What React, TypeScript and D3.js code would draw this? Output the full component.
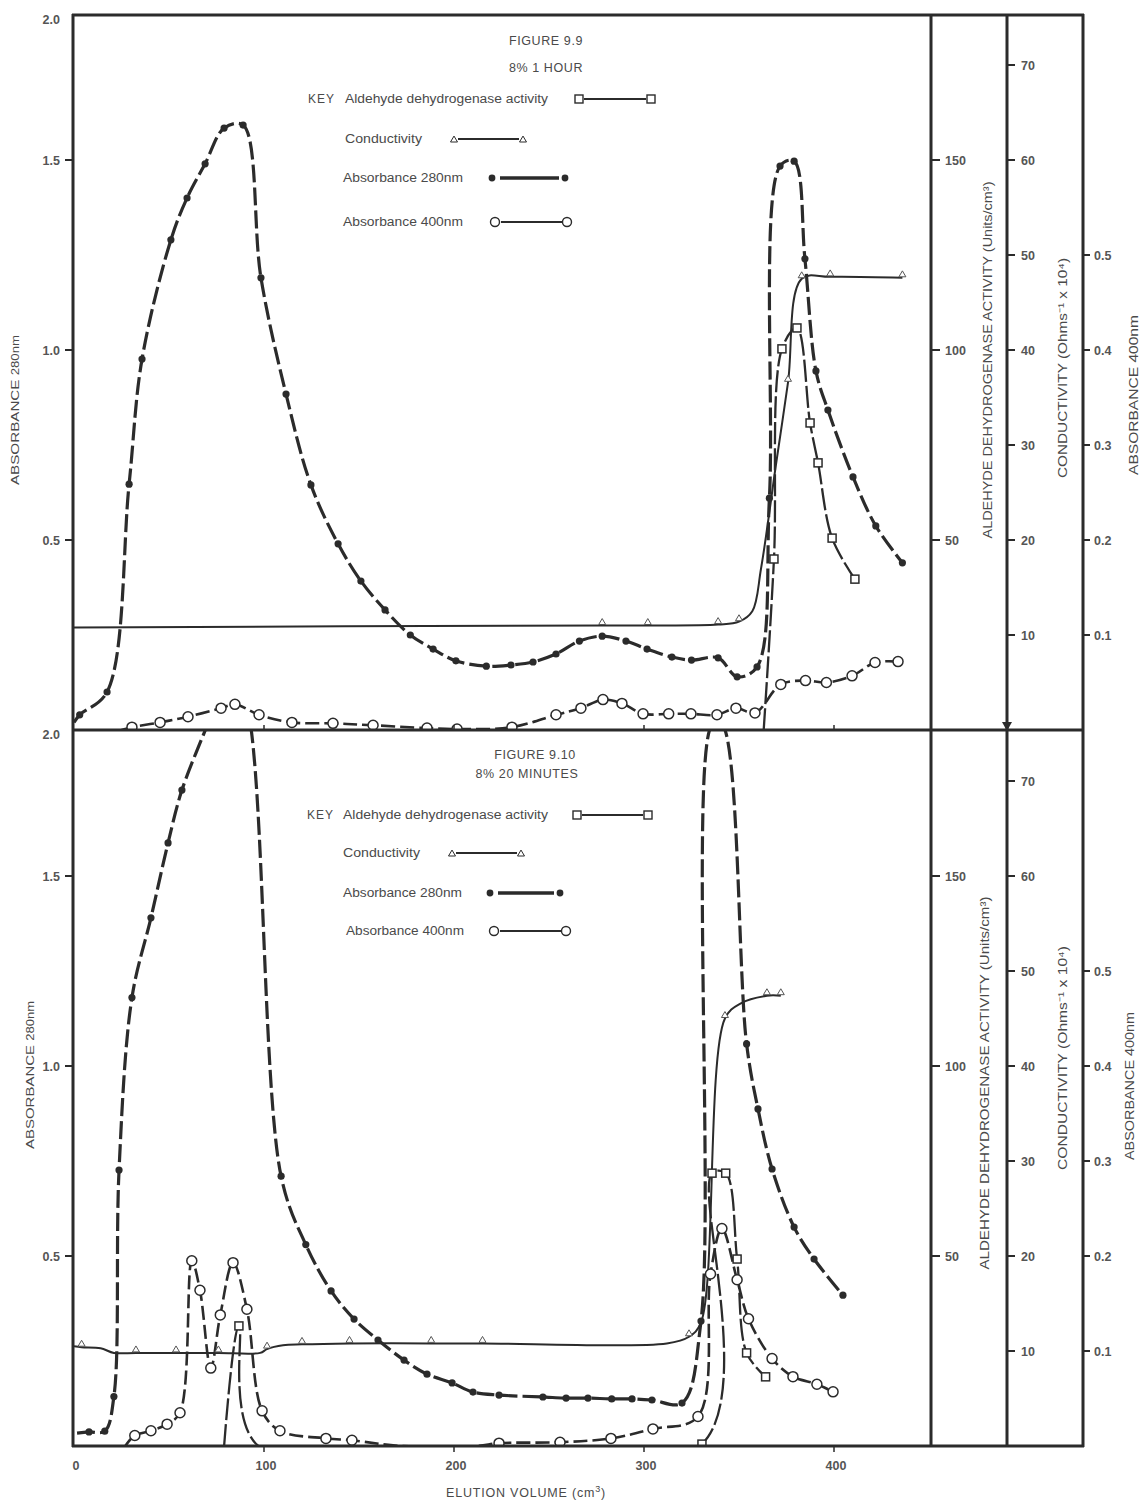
import React from "react";
import * as d3 from "d3";

// [elution volume (cm3), value, marker drawn (1) or plain line point (0)]
type P = [number, number, number];

const xTicks = [0, 100, 200, 300, 400];
const a280Ticks = [0.5, 1.0, 1.5];
const a280TopLabel = "2.0";
const aldTicks = [50, 100, 150];
const condTicks = [10, 20, 30, 40, 50, 60, 70];
const a400Ticks = [0.1, 0.2, 0.3, 0.4, 0.5];

const legendLabels = ["Aldehyde dehydrogenase activity", "Conductivity", "Absorbance 280nm", "Absorbance 400nm"];

// ---------- FIGURE 9.9 (8% 1 HOUR) ----------
const fig99A280: P[] = [
  [0, 0.02, 0], [3, 0.04, 1], [17.4, 0.1, 1], [29, 0.647, 1], [35.8, 0.976, 1], [51, 1.29, 1],
  [59.5, 1.4, 1], [69, 1.49, 1], [79, 1.584, 1], [89, 1.592, 1], [98.4, 1.19, 1], [111.6, 0.884, 1],
  [124.7, 0.645, 1], [139, 0.49, 1], [151, 0.392, 1], [163.7, 0.316, 1], [177, 0.25, 1], [189, 0.213, 1],
  [201, 0.182, 1], [217, 0.168, 1], [230, 0.171, 1], [241.6, 0.179, 1], [253.7, 0.2, 1], [266, 0.234, 1],
  [278, 0.247, 1], [290.5, 0.234, 1], [301.6, 0.213, 1], [314.7, 0.192, 1], [325, 0.184, 1], [339, 0.19, 1],
  [349, 0.14, 1], [359.5, 0.166, 1], [366, 0.61, 1], [371.6, 1.484, 1], [379, 1.497, 1], [384.7, 1.24, 1],
  [390.5, 0.945, 1], [396.8, 0.842, 1], [410, 0.666, 1], [422, 0.537, 1], [436, 0.44, 1],
];
const fig99A400: P[] = [
  [25, 0.0, 0], [30.5, 0.003, 1], [45.3, 0.008, 1], [60, 0.014, 1], [77.4, 0.023, 1], [84.7, 0.027, 1],
  [97.4, 0.016, 1], [114.7, 0.008, 1], [136.3, 0.007, 1], [157.4, 0.005, 1], [185.8, 0.002, 1], [201.6, 0.001, 1],
  [230.5, 0.003, 1], [253.7, 0.016, 1], [266.8, 0.023, 1], [278.4, 0.032, 1], [288.4, 0.028, 1], [299.5, 0.017, 1],
  [313, 0.017, 1], [324.7, 0.017, 1], [338.4, 0.016, 1], [348.4, 0.023, 1], [358.4, 0.018, 1], [372, 0.048, 1],
  [385, 0.052, 1], [396, 0.05, 1], [409.5, 0.057, 1], [421.6, 0.071, 1], [433.7, 0.072, 1],
];
const fig99Cond: P[] = [
  [0, 10.8, 0], [278, 11.0, 1], [302, 11.0, 1], [339, 11.1, 1], [350, 11.4, 1], [357, 12.5, 0],
  [361.6, 17, 0], [369.5, 28, 0], [375.8, 36.6, 1], [383, 47.5, 1], [398, 47.7, 1], [436, 47.6, 1],
];
const fig99Ald: P[] = [
  [363, 0, 0], [368.4, 45, 1], [372.6, 100.3, 1], [380.5, 105.8, 1], [387.4, 80.8, 1], [391.6, 70.3, 1],
  [399, 50.5, 1], [411, 39.7, 1],
];

// ---------- FIGURE 9.10 (8% 20 MINUTES) ----------
const fig910A280: P[] = [
  [1.6, 0.034, 0], [7.9, 0.037, 1], [16.2, 0.039, 1], [21, 0.13, 1], [23.7, 0.726, 1], [30.5, 1.18, 1],
  [40.5, 1.39, 1], [49.5, 1.587, 1], [56.8, 1.726, 1], [72, 1.92, 1], [82, 2.05, 0], [91, 1.95, 0],
  [109, 0.71, 1], [122, 0.53, 1], [135.3, 0.408, 1], [147.4, 0.334, 1], [160, 0.279, 1], [173.7, 0.226, 1],
  [185.8, 0.189, 1], [199, 0.166, 1], [210, 0.142, 1], [223.7, 0.134, 1], [246.8, 0.129, 1], [259, 0.126, 1],
  [270.5, 0.126, 1], [283, 0.124, 1], [293.7, 0.124, 1], [304.2, 0.121, 1], [320, 0.113, 1], [330, 0.329, 1],
  [336, 1.9, 1], [341, 1.9, 1], [354, 1.058, 1], [360, 0.887, 1], [367.4, 0.729, 1], [379, 0.576, 1],
  [389.5, 0.492, 1], [404.7, 0.397, 1],
];
const fig910A400: P[] = [
  [27, 0.0, 0], [32, 0.011, 1], [40.5, 0.016, 1], [49, 0.023, 1], [55.8, 0.035, 1], [62, 0.195, 1],
  [66.3, 0.164, 1], [72, 0.082, 1], [77, 0.138, 1], [83.7, 0.193, 1], [91, 0.144, 1], [99, 0.037, 1],
  [108.4, 0.016, 1], [132.6, 0.008, 1], [146.3, 0.006, 1], [172, 0.0, 0], [212, 0.0, 0], [223.7, 0.003, 1],
  [255.8, 0.004, 1], [282.6, 0.008, 1], [304.7, 0.018, 1], [328.4, 0.031, 1], [335, 0.181, 1], [341, 0.229, 1],
  [349, 0.175, 1], [355, 0.134, 1], [367.4, 0.092, 1], [378.4, 0.073, 1], [391, 0.065, 1], [399.5, 0.057, 1],
];
const fig910Cond: P[] = [
  [0, 10.5, 0], [4, 10.4, 1], [14, 10.3, 0], [21, 9.8, 0], [32.6, 9.8, 1], [53.7, 9.8, 1], [76, 9.8, 1],
  [98, 9.8, 0], [101.6, 10.2, 1], [110, 10.6, 0], [120, 10.7, 1], [145, 10.8, 1], [188, 10.8, 1], [215, 10.8, 1],
  [312, 10.8, 0], [323.7, 11.5, 1], [330, 13, 0], [342.6, 45, 1], [351, 46.6, 0], [364.7, 47.4, 1], [372, 47.4, 1],
];
const fig910Ald: P[] = [
  [79, 0, 0], [86.8, 31.6, 1], [97, 0, 0], [330.5, 0.5, 1], [335.8, 71.8, 1], [343, 71.8, 1], [349, 49.2, 1],
  [354, 24.5, 1], [364, 18.2, 1],
];

// ---------- layout ----------
const X0 = 74;
const XR = 929;
const L1 = 931;
const L2 = 1007;
const L3 = 1083;
const INK = "#2b2b2b";
const TXT = "#4a4a4a";
const TICK = "#555";
const FONT = "'Liberation Sans', Arial, Helvetica, sans-serif";
const NARROW = "'Liberation Sans Narrow', 'Liberation Sans', Arial, sans-serif";

type Layout = {
  y0: number; y1: number; clip: string; fig: string; sub: string;
  figX: number; figY: number; subX: number; subY: number;
  keyX: number; rows: { x: number; y: number; m1: number; m2: number; w: number }[];
  leftTitle: { x: number; y: number; len: number };
  aldTitle: { x: number; y: number; len: number };
  condTitle: { x: number; y: number; len: number };
  a400Title: { x: number; y: number; len: number };
  bottomAxis: boolean;
};

const tri = (cx: number, cy: number, s = 7) =>
  `M${cx - s / 2},${cy} L${cx + s / 2},${cy} L${cx},${cy - s * 0.85} Z`;

function Panel({ lay, a280, a400, cond, ald }: { lay: Layout; a280: P[]; a400: P[]; cond: P[]; ald: P[] }) {
  const { y0, y1 } = lay;
  const x = d3.scaleLinear().domain([0, 450]).range([X0, XR]);
  const yA = d3.scaleLinear().domain([0, 0.5]).range([y1, y1 - 190]);
  const yAld = d3.scaleLinear().domain([0, 50]).range([y1, y1 - 190]);
  const yC = d3.scaleLinear().domain([0, 20]).range([y1, y1 - 190]);
  const y4 = d3.scaleLinear().domain([0, 0.2]).range([y1, y1 - 190]);
  const lineOf = (ys: d3.ScaleLinear<number, number>) =>
    d3.line<P>().x((d) => x(d[0])).y((d) => ys(d[1])).curve(d3.curveCatmullRom.alpha(0.5));

  const rowLabel = (i: number) => lay.rows[i];
  const top = lay.y0;
  const tickText = { fontSize: 12.5, fill: TICK, fontFamily: FONT, fontWeight: 700 as const };
  return (
    <g>
      <defs>
        <clipPath id={lay.clip}>
          <rect x={X0} y={y0} width={XR - X0 + 1} height={y1 - y0} />
        </clipPath>
      </defs>
      <g clipPath={`url(#${lay.clip})`}>
        <path d={lineOf(yC)(cond) || ""} fill="none" stroke={INK} strokeWidth={2} />
        <path d={lineOf(yAld)(ald) || ""} fill="none" stroke={INK} strokeWidth={2.3} strokeDasharray="22 4" />
        <path d={lineOf(y4)(a400) || ""} fill="none" stroke={INK} strokeWidth={2.6} strokeDasharray="14 5" />
        <path d={lineOf(yA)(a280) || ""} fill="none" stroke={INK} strokeWidth={3.2} strokeDasharray="18 5" />
        {cond.filter((d) => d[2]).map((d, i) => (
          <path key={"c" + i} d={tri(x(d[0]), yC(d[1]) - 1)} fill="#fff" stroke="#555" strokeWidth={1} />
        ))}
        {ald.filter((d) => d[2]).map((d, i) => (
          <rect key={"a" + i} x={x(d[0]) - 4} y={yAld(d[1]) - 4} width={8} height={8} fill="#fff" stroke={INK} strokeWidth={1.5} />
        ))}
        {a400.filter((d) => d[2]).map((d, i) => (
          <circle key={"o" + i} cx={x(d[0])} cy={y4(d[1])} r={5} fill="#fff" stroke={INK} strokeWidth={1.5} />
        ))}
        {a280.filter((d) => d[2]).map((d, i) => (
          <circle key={"f" + i} cx={x(d[0])} cy={yA(d[1])} r={3.6} fill={INK} />
        ))}
      </g>

      {/* left axis */}
      {a280Ticks.map((t) => (
        <g key={"lt" + t}>
          <line x1={X0 - 9} x2={X0} y1={yA(t)} y2={yA(t)} stroke={INK} strokeWidth={2} />
          <text x={X0 - 14} y={yA(t) + 4.5} textAnchor="end" {...tickText}>{t.toFixed(1)}</text>
        </g>
      ))}
      <text x={X0 - 14} y={top + 9} textAnchor="end" {...tickText}>{a280TopLabel}</text>
      <text transform={`translate(${lay.leftTitle.x},${lay.leftTitle.y}) rotate(-90)`} textAnchor="middle" fontSize={11.5}
        fill={TXT} fontFamily={FONT} textLength={lay.leftTitle.len} lengthAdjust="spacingAndGlyphs">
        ABSORBANCE <tspan fontSize={10}>280nm</tspan>
      </text>

      {/* right axes */}
      {aldTicks.map((t) => (
        <g key={"at" + t}>
          <line x1={L1} x2={L1 + 9} y1={yAld(t)} y2={yAld(t)} stroke={INK} strokeWidth={2} />
          <text x={L1 + 14} y={yAld(t) + 4.5} {...tickText}>{t}</text>
        </g>
      ))}
      {condTicks.map((t) => (
        <g key={"ct" + t}>
          <line x1={L2} x2={L2 + 8} y1={yC(t)} y2={yC(t)} stroke={INK} strokeWidth={2} />
          <text x={L2 + 14} y={yC(t) + 4.5} {...tickText}>{t}</text>
        </g>
      ))}
      {a400Ticks.map((t) => (
        <g key={"bt" + t}>
          <line x1={L3} x2={L3 + 7} y1={y4(t)} y2={y4(t)} stroke={INK} strokeWidth={2} />
          <text x={L3 + 11} y={y4(t) + 4.5} {...tickText}>{t.toFixed(1)}</text>
        </g>
      ))}
      <text transform={`translate(${lay.aldTitle.x},${lay.aldTitle.y}) rotate(-90)`} textAnchor="middle" fontSize={12}
        fill={TXT} fontFamily={NARROW} textLength={lay.aldTitle.len} lengthAdjust="spacingAndGlyphs">
        ALDEHYDE DEHYDROGENASE ACTIVITY (Units/cm³)
      </text>
      <text transform={`translate(${lay.condTitle.x},${lay.condTitle.y}) rotate(-90)`} textAnchor="middle" fontSize={12}
        fill={TXT} fontFamily={NARROW} textLength={lay.condTitle.len} lengthAdjust="spacingAndGlyphs">
        CONDUCTIVITY (Ohms⁻¹ x 10⁴)
      </text>
      <text transform={`translate(${lay.a400Title.x},${lay.a400Title.y}) rotate(-90)`} textAnchor="middle" fontSize={12}
        fill={TXT} fontFamily={NARROW} textLength={lay.a400Title.len} lengthAdjust="spacingAndGlyphs">
        ABSORBANCE 400nm
      </text>

      {/* x ticks on the panel base */}
      {xTicks.filter((t) => t > 0).map((t) => (
        lay.bottomAxis ? (
          <line key={"xt" + t} x1={x(t)} x2={x(t)} y1={y1} y2={y1 + 6} stroke={INK} strokeWidth={1.5} />
        ) : (
          <line key={"xt" + t} x1={x(t)} x2={x(t)} y1={y1} y2={y1 - 5} stroke={INK} strokeWidth={1.5} />
        )
      ))}
      {lay.bottomAxis && xTicks.map((t) => (
        <text key={"xl" + t} x={x(t) + 2} y={y1 + 24} textAnchor="middle" {...tickText}>{t}</text>
      ))}

      {/* titles & key */}
      <text x={lay.figX} y={lay.figY} textAnchor="middle" fontSize={12.5} fill={TXT} fontFamily={FONT} letterSpacing={0.6}>{lay.fig}</text>
      <text x={lay.subX} y={lay.subY} textAnchor="middle" fontSize={12.5} fill={TXT} fontFamily={FONT} letterSpacing={0.6}>{lay.sub}</text>
      <text x={lay.keyX} y={rowLabel(0).y} fontSize={12} fill={TXT} fontFamily={FONT} letterSpacing={1}>KEY</text>
      {legendLabels.map((lbl, i) => {
        const r = rowLabel(i);
        const cy = r.y - 4;
        return (
          <g key={"lg" + i}>
            <text x={r.x} y={r.y} fontSize={12} fill={TXT} fontFamily={FONT} textLength={r.w} lengthAdjust="spacingAndGlyphs">{lbl}</text>
            {i === 0 && (
              <g>
                <line x1={r.m1 + 5} x2={r.m2 - 5} y1={cy} y2={cy} stroke={INK} strokeWidth={2} />
                <rect x={r.m1 - 4} y={cy - 4} width={8} height={8} fill="#fff" stroke={INK} strokeWidth={1.4} />
                <rect x={r.m2 - 4} y={cy - 4} width={8} height={8} fill="#fff" stroke={INK} strokeWidth={1.4} />
              </g>
            )}
            {i === 1 && (
              <g>
                <line x1={r.m1 + 4} x2={r.m2 - 4} y1={cy} y2={cy} stroke={INK} strokeWidth={2} />
                <path d={tri(r.m1, cy + 3)} fill="#fff" stroke={INK} strokeWidth={1} />
                <path d={tri(r.m2, cy + 3)} fill="#fff" stroke={INK} strokeWidth={1} />
              </g>
            )}
            {i === 2 && (
              <g>
                <line x1={r.m1 + 8} x2={r.m2 - 6} y1={cy} y2={cy} stroke={INK} strokeWidth={3.5} />
                <circle cx={r.m1} cy={cy} r={3.4} fill={INK} />
                <circle cx={r.m2} cy={cy} r={3.4} fill={INK} />
              </g>
            )}
            {i === 3 && (
              <g>
                <line x1={r.m1 + 6} x2={r.m2 - 5} y1={cy} y2={cy} stroke={INK} strokeWidth={2} />
                <circle cx={r.m1} cy={cy} r={4.5} fill="#fff" stroke={INK} strokeWidth={1.4} />
                <circle cx={r.m2} cy={cy} r={4.5} fill="#fff" stroke={INK} strokeWidth={1.4} />
              </g>
            )}
          </g>
        );
      })}
    </g>
  );
}

const topLayout: Layout = {
  y0: 15, y1: 730, clip: "clipTop", fig: "FIGURE 9.9", sub: "8% 1 HOUR",
  figX: 546, figY: 45, subX: 546, subY: 72, keyX: 308,
  rows: [
    { x: 345, y: 103, m1: 579, m2: 651, w: 203 },
    { x: 345, y: 143, m1: 454, m2: 523, w: 77 },
    { x: 343, y: 182, m1: 492, m2: 565, w: 120 },
    { x: 343, y: 226, m1: 495, m2: 567, w: 120 },
  ],
  leftTitle: { x: 19, y: 410, len: 150 },
  aldTitle: { x: 992, y: 360, len: 357 },
  condTitle: { x: 1067, y: 368, len: 220 },
  a400Title: { x: 1138, y: 395, len: 160 },
  bottomAxis: false,
};

const botLayout: Layout = {
  y0: 730, y1: 1446, clip: "clipBot", fig: "FIGURE 9.10", sub: "8% 20 MINUTES",
  figX: 535, figY: 759, subX: 527, subY: 778, keyX: 307,
  rows: [
    { x: 343, y: 819, m1: 577, m2: 648, w: 205 },
    { x: 343, y: 857, m1: 452, m2: 521, w: 77 },
    { x: 343, y: 897, m1: 490, m2: 560, w: 119 },
    { x: 346, y: 935, m1: 494, m2: 566, w: 118 },
  ],
  leftTitle: { x: 34, y: 1075, len: 148 },
  aldTitle: { x: 989, y: 1083, len: 373 },
  condTitle: { x: 1067, y: 1058, len: 224 },
  a400Title: { x: 1134, y: 1086, len: 148 },
  bottomAxis: true,
};

export default function App() {
  return (
    <svg width={1140} height={1501} viewBox="0 0 1140 1501"
      style={{ position: "absolute", left: 0, top: 0, background: "#fff", display: "block" }}>
      <rect x={0} y={0} width={1140} height={1501} fill="#fff" />
      <Panel lay={topLayout} a280={fig99A280} a400={fig99A400} cond={fig99Cond} ald={fig99Ald} />
      <Panel lay={botLayout} a280={fig910A280} a400={fig910A400} cond={fig910Cond} ald={fig910Ald} />
      {/* frame */}
      <g stroke={INK} strokeWidth={3} fill="none">
        <line x1={X0 - 2} x2={L3 + 1} y1={15} y2={15} />
        <line x1={X0 - 2} x2={L3 + 1} y1={730} y2={730} />
        <line x1={X0 - 2} x2={L3 + 1} y1={1446} y2={1446} />
        <line x1={X0 - 1} x2={X0 - 1} y1={14} y2={1447} />
        <line x1={L1} x2={L1} y1={14} y2={1447} />
        <line x1={L2} x2={L2} y1={14} y2={1447} />
        <line x1={L3} x2={L3} y1={14} y2={1447} />
      </g>
      <path d={`M${L2 - 5},722 L${L2 + 5},722 L${L2},731 Z`} fill={INK} />
      <text x={526} y={1497} textAnchor="middle" fontSize={12.5} fill={TXT} fontFamily={FONT} letterSpacing={0.8}>
        ELUTION VOLUME (cm<tspan dy={-5} fontSize={9}>3</tspan><tspan dy={5}>)</tspan>
      </text>
    </svg>
  );
}
